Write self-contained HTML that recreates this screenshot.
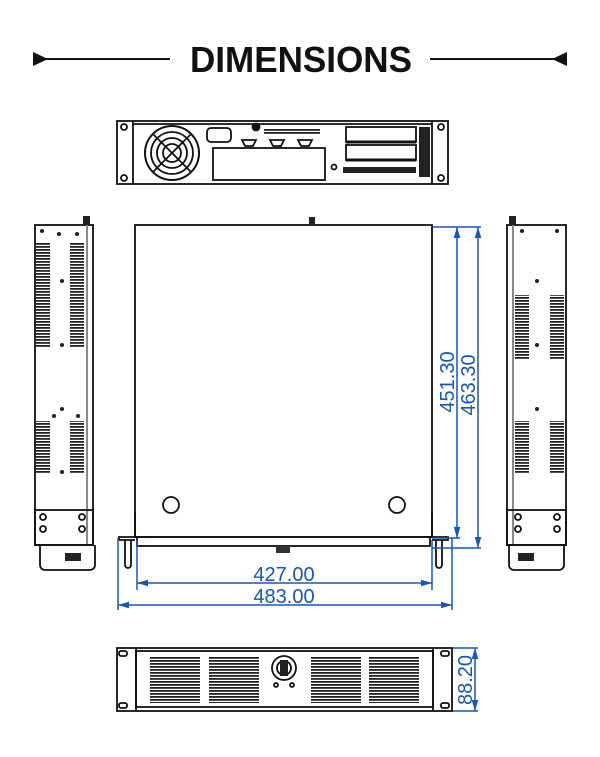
<!DOCTYPE html>
<html><head><meta charset="utf-8"><style>body{margin:0;background:#fff}svg{display:block}</style></head><body>
<svg width="600" height="757" viewBox="0 0 600 757" xmlns="http://www.w3.org/2000/svg" font-family="Liberation Sans, sans-serif">
<defs>
<pattern id="vh" width="6" height="3" patternUnits="userSpaceOnUse"><rect width="6" height="1.8" fill="#222"/></pattern>
<marker id="ab" viewBox="0 0 10 10" refX="10" refY="5" markerWidth="11" markerHeight="11" orient="auto-start-reverse" markerUnits="userSpaceOnUse"><path d="M0,2 L10,5 L0,8z" fill="#1a56b0"/></marker>
</defs>
<!-- title -->
<line x1="40" y1="59" x2="170" y2="59" stroke="#111" stroke-width="2"/>
<path d="M33,52 L48,59 L33,66z" fill="#111"/>
<line x1="430" y1="59" x2="560" y2="59" stroke="#111" stroke-width="2"/>
<path d="M567,52 L552,59 L567,66z" fill="#111"/>
<text x="190" y="72" font-size="36" font-weight="bold" textLength="222" lengthAdjust="spacingAndGlyphs" fill="#111">DIMENSIONS</text>

<!-- rear view -->
<g stroke="#111" fill="none" stroke-width="1.8">
<rect x="117" y="121" width="331" height="63"/>
<line x1="133" y1="121" x2="133" y2="184"/><line x1="432" y1="121" x2="432" y2="184"/>
<line x1="133" y1="124" x2="432" y2="124"/>
<circle cx="124" cy="127" r="3"/><circle cx="124" cy="178" r="3"/><circle cx="441" cy="127" r="3"/><circle cx="441" cy="178" r="3"/>
<circle cx="172" cy="153" r="27" stroke-width="2"/><circle cx="172" cy="153" r="21"/><circle cx="172" cy="153" r="15"/><circle cx="172" cy="153" r="9"/>
<line x1="153" y1="134" x2="191" y2="172"/><line x1="191" y1="134" x2="153" y2="172"/>
<rect x="213" y="148" width="112" height="32"/>
<rect x="207" y="128" width="24" height="14" rx="4"/>
<path d="M242,140 h14 l-3,6 h-8z M270,140 h14 l-3,6 h-8z M298,140 h14 l-3,6 h-8z"/>
<rect x="346" y="127" width="70" height="15"/><rect x="346" y="145" width="70" height="15"/>
<line x1="346" y1="142" x2="416" y2="142" stroke-width="3"/><line x1="346" y1="160" x2="416" y2="160" stroke-width="3"/>
<circle cx="334" cy="167" r="2.5"/>
<circle cx="256" cy="127" r="3.5" fill="#111"/>
</g>
<rect x="264" y="129" width="56" height="6" fill="url(#vh)"/>
<g fill="#222"><rect x="343" y="167" width="73" height="6"/><rect x="419" y="127" width="11" height="50"/></g>

<!-- left side view -->
<g stroke="#111" fill="none" stroke-width="1.8">
<rect x="35" y="225" width="58" height="320"/>
<line x1="87" y1="225" x2="87" y2="545" stroke="#888" stroke-width="2"/>
<rect x="35" y="510" width="58" height="35"/>
<path d="M40,545 v20 a5,5 0 0 0 5,5 h45 a5,5 0 0 0 5,-5 v-20"/>
<circle cx="43" cy="517" r="3"/><circle cx="43" cy="529" r="3"/><circle cx="82" cy="517" r="3"/><circle cx="82" cy="529" r="3"/>
</g>
<rect x="83" y="216" width="7" height="9" fill="#222"/>
<rect x="65" y="553" width="16" height="8" fill="#222"/>
<g fill="url(#vh)"><rect x="36" y="243" width="14" height="105"/><rect x="70" y="243" width="14" height="105"/><rect x="36" y="421" width="14" height="52"/><rect x="70" y="421" width="14" height="52"/></g>
<g fill="#222"><circle cx="62" cy="281" r="2"/><circle cx="62" cy="345" r="2"/><circle cx="62" cy="409" r="2"/><circle cx="54" cy="416" r="2"/><circle cx="78" cy="416" r="2"/><circle cx="62" cy="472" r="2"/><circle cx="42" cy="231" r="2"/><circle cx="59" cy="234" r="2"/><circle cx="77" cy="234" r="2"/></g>

<!-- right side view -->
<g stroke="#111" fill="none" stroke-width="1.8">
<rect x="507" y="225" width="59" height="320"/>
<line x1="513" y1="225" x2="513" y2="545" stroke="#888" stroke-width="2"/>
<rect x="507" y="510" width="59" height="35"/>
<path d="M509,545 v20 a5,5 0 0 0 5,5 h45 a5,5 0 0 0 5,-5 v-20"/>
<circle cx="518" cy="517" r="3"/><circle cx="518" cy="529" r="3"/><circle cx="557" cy="517" r="3"/><circle cx="557" cy="529" r="3"/>
</g>
<rect x="509" y="216" width="7" height="9" fill="#222"/>
<rect x="518" y="553" width="16" height="8" fill="#222"/>
<g fill="url(#vh)"><rect x="515" y="295" width="14" height="65"/><rect x="550" y="295" width="14" height="65"/><rect x="515" y="421" width="14" height="52"/><rect x="550" y="421" width="14" height="52"/></g>
<g fill="#222"><circle cx="522" cy="231" r="2"/><circle cx="557" cy="231" r="2"/><circle cx="537" cy="281" r="2"/><circle cx="537" cy="345" r="2"/><circle cx="537" cy="409" r="2"/></g>

<!-- top view -->
<g stroke="#111" fill="none" stroke-width="1.8">
<rect x="135" y="225" width="297" height="312"/>
<rect x="137" y="537" width="293" height="9"/>
<path d="M135,512 v25 h-16 v3 h16"/><path d="M432,512 v25 h16 v3 h-16"/>
<path d="M125,540 v25 a3,3 0 0 0 6,0 v-25"/><path d="M436,540 v25 a3,3 0 0 0 6,0 v-25"/>
<circle cx="171" cy="505" r="8"/><circle cx="397" cy="505" r="8"/>
</g>
<rect x="309" y="217" width="6" height="8" fill="#222"/>
<rect x="276" y="546" width="14" height="7" fill="#333"/>

<!-- dimensions -->
<g stroke="#1a56b0" stroke-width="1.5" fill="none">
<line x1="433" y1="227" x2="481" y2="227"/>
<line x1="432" y1="538" x2="460" y2="538"/>
<line x1="432" y1="548" x2="481" y2="548"/>
<line x1="457" y1="227" x2="457" y2="538" marker-start="url(#ab)" marker-end="url(#ab)"/>
<line x1="478" y1="227" x2="478" y2="548" marker-start="url(#ab)" marker-end="url(#ab)"/>
<line x1="137" y1="540" x2="137" y2="590"/><line x1="432" y1="540" x2="432" y2="590"/>
<line x1="118" y1="538" x2="118" y2="610"/><line x1="452" y1="538" x2="452" y2="610"/>
<line x1="137" y1="583" x2="432" y2="583" marker-start="url(#ab)" marker-end="url(#ab)"/>
<line x1="118" y1="605" x2="452" y2="605" marker-start="url(#ab)" marker-end="url(#ab)"/>
<line x1="452" y1="648" x2="478" y2="648"/><line x1="452" y1="711" x2="478" y2="711"/>
<line x1="475" y1="648" x2="475" y2="711" marker-start="url(#ab)" marker-end="url(#ab)"/>
</g>
<g fill="#1a56b0" font-size="20">
<text x="284" y="581" text-anchor="middle">427.00</text>
<text x="284" y="603" text-anchor="middle">483.00</text>
<text transform="translate(454,382) rotate(-90)" text-anchor="middle">451.30</text>
<text transform="translate(475,385) rotate(-90)" text-anchor="middle">463.30</text>
<text transform="translate(472,680) rotate(-90)" text-anchor="middle">88.20</text>
</g>

<!-- front view -->
<g stroke="#111" fill="none" stroke-width="1.8">
<rect x="117" y="648" width="335" height="63"/>
<line x1="136" y1="648" x2="136" y2="711"/><line x1="433" y1="648" x2="433" y2="711"/>
<rect x="136" y="651" width="297" height="56"/>
<rect x="119" y="651" width="8" height="5" rx="2"/><rect x="119" y="703" width="8" height="5" rx="2"/>
<rect x="441" y="651" width="8" height="5" rx="2"/><rect x="441" y="703" width="8" height="5" rx="2"/>
<circle cx="284" cy="668" r="12"/><circle cx="284" cy="668" r="7"/>
<circle cx="276" cy="685" r="2"/><circle cx="292" cy="685" r="2"/>
</g>
<rect x="280" y="660" width="8" height="16" fill="#222"/>
<g fill="url(#vh)"><rect x="150" y="657" width="50" height="46"/><rect x="209" y="657" width="50" height="46"/><rect x="311" y="657" width="50" height="46"/><rect x="369" y="657" width="50" height="46"/></g>
</svg>
</body></html>
